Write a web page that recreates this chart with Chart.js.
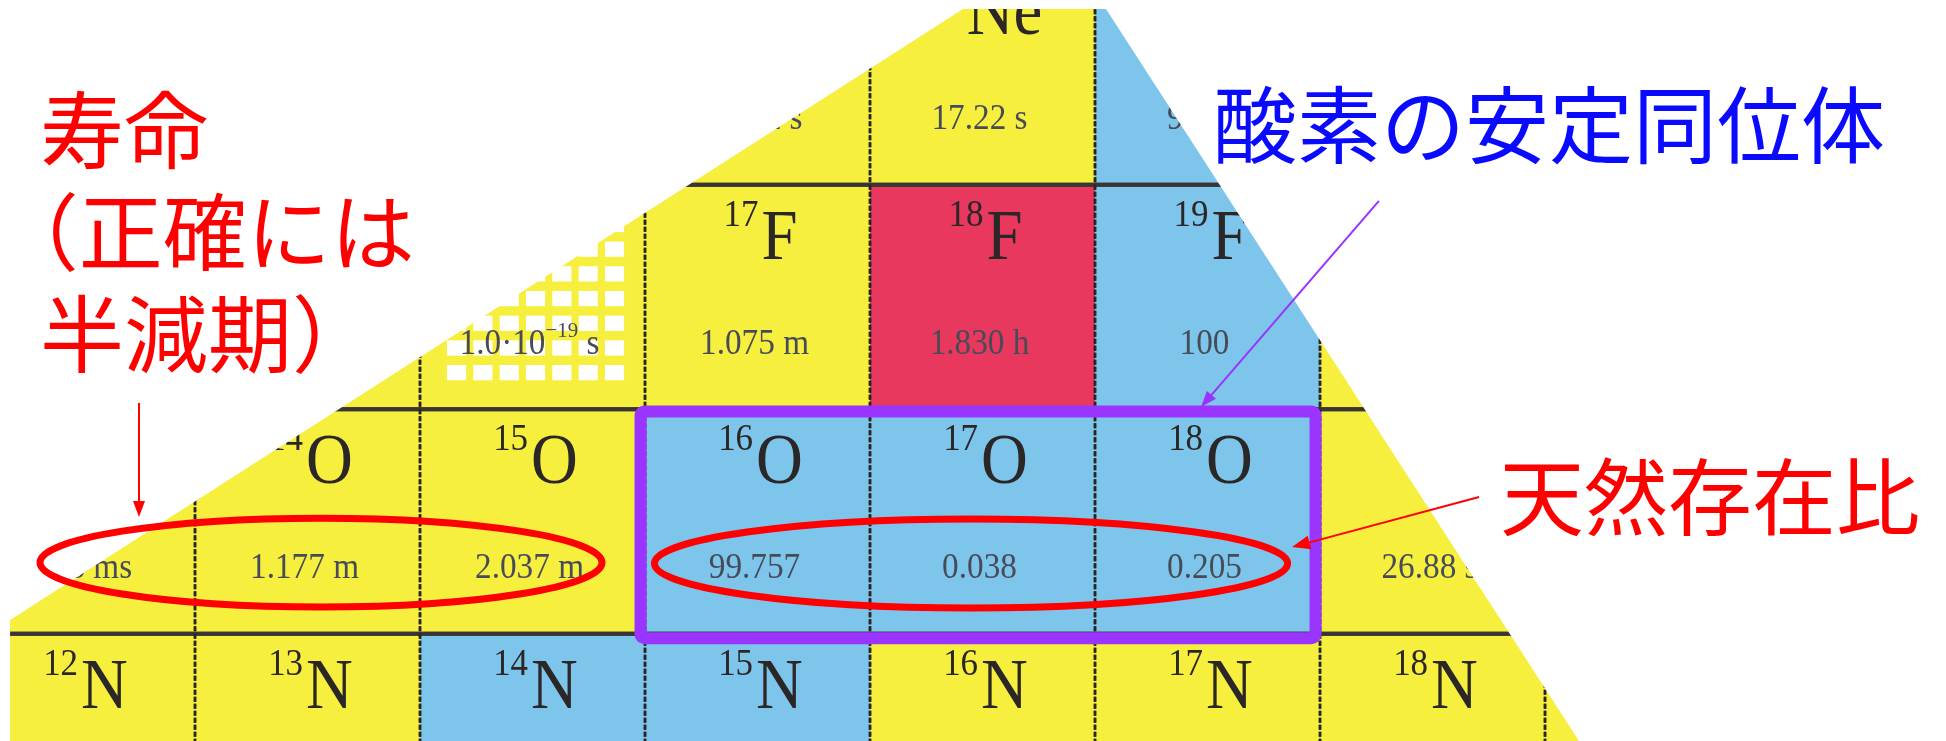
<!DOCTYPE html>
<html lang="ja">
<head>
<meta charset="utf-8">
<title>酸素の安定同位体</title>
<script src="https://cdn.jsdelivr.net/npm/chart.js@4.4.1/dist/chart.umd.min.js"></script>
<style>
  html, body { margin: 0; padding: 0; background: #fff; }
  canvas { display: block; }
</style>
</head>
<body>
<canvas id="nuclideChart" width="1946" height="741"></canvas>
<script>
// nuclides shown in the cut-out of the chart (Z = protons, A = mass number)
const symbols     = ['Ne', 'Ne', 'Ne', 'F', 'F', 'F', 'F', 'F', 'F', 'O', 'O', 'O', 'O', 'O', 'O', 'O', 'N', 'N', 'N', 'N', 'N', 'N', 'N', 'N'];
const protons     = [10, 10, 10, 9, 9, 9, 9, 9, 9, 8, 8, 8, 8, 8, 8, 8, 7, 7, 7, 7, 7, 7, 7, 7];
const massNumbers = [18, 19, 20, 15, 16, 17, 18, 19, 20, 13, 14, 15, 16, 17, 18, 19, 12, 13, 14, 15, 16, 17, 18, 19];
// half-life, or natural abundance in % for stable ones ( ^..^ = superscript )
const cellValues  = ['1.672 s', '17.22 s', '90.48', '', '1.0·10^−19^ s', '1.075 m', '1.830 h', '100', '',
                     '8.58 ms', '1.177 m', '2.037 m', '99.757', '0.038', '0.205', '26.88 s',
                     '', '', '', '', '', '', '', ''];
const kinds       = ['decay', 'decay', 'stable', 'decay', 'unbound', 'decay', 'marked', 'stable', 'decay',
                     'decay', 'decay', 'decay', 'stable', 'stable', 'stable', 'decay',
                     'decay', 'decay', 'stable', 'stable', 'decay', 'decay', 'decay', 'decay'];

// axis window (x = neutron number, y = proton number)
const xRange = [4.6333, 13.2822];
const yRange = [7.0223, 10.3229];

const kindColors = { decay: '#f6ef3e', stable: '#7ec5ec', marked: '#e8385e', unbound: '#f6ef3e' };

const neutrons = massNumbers.map((a, i) => a - protons[i]);
const points = neutrons.map((n, i) => ({ x: n, y: protons[i] }));

const SERIF = '"Liberation Serif", "DejaVu Serif", serif';
const JP = '"Noto Sans CJK JP", "Noto Sans CJK SC", sans-serif';

const drawArrow = (ctx, x1, y1, x2, y2, color, width, headLen, headW) => {
  const ang = Math.atan2(y2 - y1, x2 - x1);
  ctx.save();
  ctx.strokeStyle = color;
  ctx.fillStyle = color;
  ctx.lineWidth = width;
  ctx.beginPath();
  ctx.moveTo(x1, y1);
  ctx.lineTo(x2 - Math.cos(ang) * headLen * 0.8, y2 - Math.sin(ang) * headLen * 0.8);
  ctx.stroke();
  ctx.translate(x2, y2);
  ctx.rotate(ang);
  ctx.beginPath();
  ctx.moveTo(0, 0);
  ctx.lineTo(-headLen, -headW);
  ctx.lineTo(-headLen, headW);
  ctx.closePath();
  ctx.fill();
  ctx.restore();
};

const drawValue = (ctx, text, cx, baseline) => {
  const parts = text.split('^');
  ctx.save();
  ctx.translate(cx, baseline);
  ctx.scale(0.95, 1);
  let total = 0;
  parts.forEach((p, i) => {
    ctx.font = (i % 2 ? '22px ' : '35px ') + SERIF;
    total += ctx.measureText(p).width;
  });
  let x = -total / 2;
  parts.forEach((p, i) => {
    ctx.font = (i % 2 ? '22px ' : '35px ') + SERIF;
    ctx.fillText(p, x, i % 2 ? -17 : 0);
    x += ctx.measureText(p).width;
  });
  ctx.restore();
};

const drawLabel = (ctx, mass, sym, cx, top) => {
  ctx.save();
  ctx.fillStyle = '#2c2727';
  ctx.font = '38px ' + SERIF;
  const supW = ctx.measureText(mass).width * 0.92;
  ctx.font = '72px ' + SERIF;
  const symW = ctx.measureText(sym).width * 0.9;
  let x = cx - (supW + 3 + symW) / 2 + 3;
  ctx.save();
  ctx.translate(x, top + 41);
  ctx.scale(0.92, 1);
  ctx.font = '38px ' + SERIF;
  ctx.fillText(mass, 0, 0);
  ctx.restore();
  ctx.translate(x + supW + 3, top + 74);
  ctx.scale(0.9, 1);
  ctx.font = '72px ' + SERIF;
  ctx.fillText(sym, 0, 0);
  ctx.restore();
};

const nuclidePlugin = {
  id: 'nuclideCells',
  beforeDatasetsDraw(chart) {
    const { ctx, scales: { x, y } } = chart;
    ctx.save();
    points.forEach((p, i) => {
      const l = x.getPixelForValue(p.x - 0.5), r = x.getPixelForValue(p.x + 0.5);
      const t = y.getPixelForValue(p.y + 0.5), b = y.getPixelForValue(p.y - 0.5);
      ctx.fillStyle = kindColors[kinds[i]];
      ctx.fillRect(l, t, r - l, b - t);
      if (kinds[i] === 'unbound') {
        ctx.fillStyle = '#ffffff';
        const w = r - l, h = b - t;
        for (let c = 0; c < 7; c++) {
          for (let k = 0; k < 7; k++) {
            ctx.fillRect(l + w * (0.12 + c * 0.117), t + h * (0.143 + k * 0.11), w * 0.085, h * 0.068);
          }
        }
      }
    });
    // cell borders
    points.forEach((p) => {
      const l = x.getPixelForValue(p.x - 0.5), r = x.getPixelForValue(p.x + 0.5);
      const t = y.getPixelForValue(p.y + 0.5), b = y.getPixelForValue(p.y - 0.5);
      ctx.strokeStyle = '#3a3535';
      ctx.lineWidth = 4;
      ctx.setLineDash([]);
      ctx.beginPath();
      ctx.moveTo(l, t); ctx.lineTo(r, t);
      ctx.moveTo(l, b); ctx.lineTo(r, b);
      ctx.stroke();
      ctx.strokeStyle = '#2a2525';
      ctx.lineWidth = 2.5;
      ctx.setLineDash([5, 2]);
      ctx.beginPath();
      ctx.moveTo(l, t); ctx.lineTo(l, b);
      ctx.moveTo(r, t); ctx.lineTo(r, b);
      ctx.stroke();
    });
    ctx.setLineDash([]);
    // texts (slightly soft, like the printed original)
    ctx.filter = 'blur(0.4px)';
    points.forEach((p, i) => {
      const cx = x.getPixelForValue(p.x);
      const t = y.getPixelForValue(p.y + 0.5);
      drawLabel(ctx, String(massNumbers[i]), symbols[i], cx, t);
      if (cellValues[i]) {
        ctx.fillStyle = '#474b58';
        drawValue(ctx, cellValues[i], cx - 3, t + 169);
      }
    });
    ctx.filter = 'none';
    ctx.restore();
  },
  afterDatasetsDraw(chart) {
    const { ctx, scales: { x, y }, width, height } = chart;
    const X = (v) => x.getPixelForValue(v);
    const Y = (v) => y.getPixelForValue(v);

    // photo cut-out: everything outside this outline is paper white
    const crop = [[4.678, 6.99], [4.678, 7.561], [8.913, 10.283], [9.549, 10.283], [11.672, 6.99]];
    ctx.save();
    ctx.beginPath();
    ctx.rect(0, 0, width, height);
    crop.forEach(([cx, cy], i) => (i ? ctx.lineTo(X(cx), Y(cy)) : ctx.moveTo(X(cx), Y(cy))));
    ctx.closePath();
    ctx.fillStyle = '#ffffff';
    ctx.fill('evenodd');

    // stable oxygen isotopes box
    ctx.strokeStyle = '#9a35ff';
    ctx.lineWidth = 12;
    ctx.lineJoin = 'round';
    ctx.beginPath();
    ctx.roundRect(X(7.48), Y(8.49), X(10.48) - X(7.48), Y(7.48) - Y(8.49), 4);
    ctx.stroke();

    // ellipses around half-lives and abundances
    ctx.strokeStyle = '#ff0000';
    ctx.lineWidth = 7;
    [[6.06, 7.817, 1.249], [8.949, 7.813, 1.407]].forEach(([ex, ey, erx]) => {
      ctx.beginPath();
      ctx.ellipse(X(ex), Y(ey), X(ex + erx) - X(ex), Y(ey) - Y(ey + 0.198), 0, 0, Math.PI * 2);
      ctx.stroke();
    });

    // arrows
    drawArrow(ctx, X(5.251), Y(8.528), X(5.251), Y(8.02), '#ff0000', 2, 16, 6);
    drawArrow(ctx, X(10.762), Y(9.428), X(9.971), Y(8.51), '#9933ff', 2, 16, 6);
    drawArrow(ctx, X(11.207), Y(8.109), X(10.376), Y(7.886), '#ff0000', 2, 18, 7);

    // annotation texts
    ctx.textBaseline = 'middle';
    ctx.font = '84px ' + JP;
    ctx.fillStyle = '#ff0000';
    ctx.fillText('寿命', X(4.811), Y(9.744));
    ctx.fillText('（正確には', X(4.61), Y(9.29));
    ctx.fillText('半減期）', X(4.811), Y(8.835));
    ctx.fillText('天然存在比', X(11.3), Y(8.109));
    ctx.fillStyle = '#0a0aff';
    ctx.fillText('酸素の安定同位体', X(10.024), Y(9.766));
    ctx.restore();
  }
};

new Chart(document.getElementById('nuclideChart'), {
  type: 'scatter',
  data: { datasets: [{ data: points, pointRadius: 0, pointHoverRadius: 0 }] },
  options: {
    responsive: false,
    animation: false,
    devicePixelRatio: 1,
    events: [],
    layout: { padding: 0 },
    plugins: { legend: { display: false }, tooltip: { enabled: false } },
    scales: {
      x: { type: 'linear', min: xRange[0], max: xRange[1], display: false },
      y: { type: 'linear', min: yRange[0], max: yRange[1], display: false }
    }
  },
  plugins: [nuclidePlugin]
});
</script>
</body>
</html>
